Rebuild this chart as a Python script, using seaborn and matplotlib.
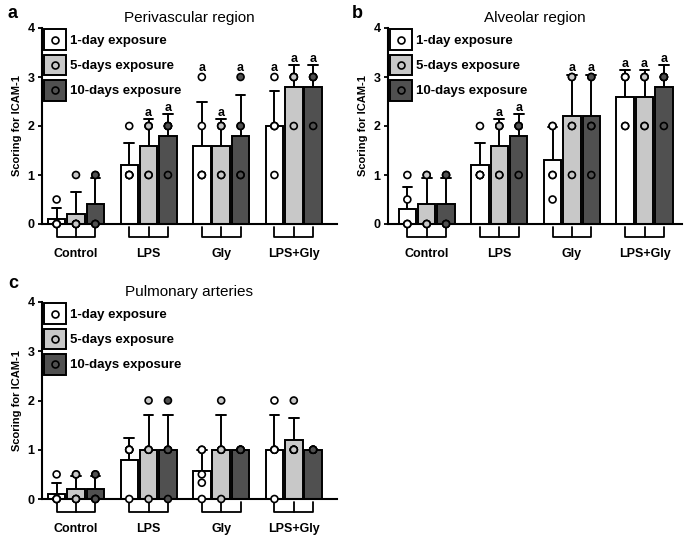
import pandas as pd
import seaborn as sns
import matplotlib.pyplot as plt
from matplotlib.patches import Patch
from matplotlib.lines import Line2D
from matplotlib.legend_handler import HandlerTuple, HandlerLine2D

groups = ['Control', 'LPS', 'Gly', 'LPS+Gly']
exposures = ['1-day exposure', '5-days exposure', '10-days exposure']
colors = ['#ffffff', '#c8c8c8', '#505050']

# individual ICAM-1 scores (5 animals per bar), one list per group
peri_1d = [[0.5, 0, 0, 0, 0], [2, 1, 1, 1, 1], [3, 2, 1, 1, 1], [3, 2, 2, 2, 1]]
peri_5d = [[1, 0, 0, 0, 0], [2, 2, 2, 1, 1], [2, 2, 2, 1, 1], [3, 3, 3, 3, 2]]
peri_10d = [[1, 1, 0, 0, 0], [2, 2, 2, 2, 1], [3, 2, 2, 1, 1], [3, 3, 3, 3, 2]]

alv_1d = [[1, 0.5, 0, 0, 0], [2, 1, 1, 1, 1], [2, 2, 1, 1, 0.5], [3, 3, 3, 2, 2]]
alv_5d = [[1, 1, 0, 0, 0], [2, 2, 2, 1, 1], [3, 3, 2, 2, 1], [3, 3, 3, 2, 2]]
alv_10d = [[1, 1, 0, 0, 0], [2, 2, 2, 2, 1], [3, 3, 2, 2, 1], [3, 3, 3, 3, 2]]

pulm_1d = [[0.5, 0, 0, 0, 0], [1, 1, 1, 1, 0], [1, 1, 0.5, 0.33, 0], [2, 1, 1, 1, 0]]
pulm_5d = [[0.5, 0.5, 0, 0, 0], [2, 1, 1, 1, 0], [2, 1, 1, 1, 0], [2, 1, 1, 1, 1]]
pulm_10d = [[0.5, 0.5, 0, 0, 0], [2, 1, 1, 1, 0], [1, 1, 1, 1, 1], [1, 1, 1, 1, 1]]

# "a" marks (per group: 1-day, 5-days, 10-days)
peri_sig = [[0, 0, 0], [0, 1, 1], [1, 1, 1], [1, 1, 1]]
alv_sig = [[0, 0, 0], [0, 1, 1], [0, 1, 1], [1, 1, 1]]
pulm_sig = [[0, 0, 0], [0, 0, 0], [0, 0, 0], [0, 0, 0]]

sns.set_style('ticks', {'axes.edgecolor': 'black', 'xtick.color': 'black',
                        'ytick.color': 'black', 'text.color': 'black',
                        'axes.labelcolor': 'black'})
plt.rcParams['font.family'] = ['Liberation Sans', 'DejaVu Sans']


class CenteredMarker(HandlerLine2D):
    # put the legend dot in the middle of the square swatch
    def create_artists(self, legend, orig_handle, xdescent, ydescent,
                       width, height, fontsize, trans):
        artists = super().create_artists(legend, orig_handle, xdescent, ydescent,
                                         width, height, fontsize, trans)
        for a in artists:
            a.set_ydata([height / 2 - ydescent] * len(a.get_xdata()))
        return artists


def long_df(d1, d5, d10):
    rows = []
    for exp, vals in zip(exposures, [d1, d5, d10]):
        for g, scores in zip(groups, vals):
            for s in scores:
                rows.append((g, exp, s))
    return pd.DataFrame(rows, columns=['group', 'exposure', 'score'])


def panel(ax, df, sig, title, xlim):
    sns.barplot(data=df, x='group', y='score', hue='exposure', order=groups,
                hue_order=exposures, palette=colors, errorbar='sd', capsize=0.4,
                width=0.8, gap=0.1, edgecolor='black', linewidth=1.4,
                err_kws={'color': 'black', 'linewidth': 1.4}, legend=False, ax=ax)
    # error bars behind the bars so only the upper half shows
    for ln in ax.lines:
        ln.set_zorder(0.9)
    sns.stripplot(data=df, x='group', y='score', hue='exposure', order=groups,
                  hue_order=exposures, palette=colors, dodge=True, jitter=False,
                  size=5, edgecolor='black', linewidth=1.2, legend=False, ax=ax)
    for coll in ax.collections:
        coll.set_clip_on(False)
        coll.set_zorder(4)

    stats = df.groupby(['group', 'exposure'])['score'].agg(['mean', 'std', 'max'])
    trans = ax.get_xaxis_transform()
    for i, g in enumerate(groups):
        xs = [c[i].get_x() + c[i].get_width() / 2 for c in ax.containers]
        ax.plot([xs[0], xs[0], xs[-1], xs[-1]], [-0.014, -0.068, -0.068, -0.014],
                transform=trans, clip_on=False, color='black', lw=1.3)
        ax.plot([xs[1], xs[1]], [-0.014, -0.068], transform=trans,
                clip_on=False, color='black', lw=1.3)
        for j, exp in enumerate(exposures):
            if sig[i][j]:
                m, s, mx = stats.loc[(g, exp)]
                top = max(m + s, mx + 0.07)
                ax.annotate('a', (xs[j], top), xytext=(0, 2), textcoords='offset points',
                            ha='center', va='baseline', fontsize=9, fontweight='bold')

    handles = [(Patch(facecolor=c, edgecolor='black', linewidth=1.4),
                Line2D([], [], ls='', marker='o', ms=5, mfc=c, mec='black', mew=1.2))
               for c in colors]
    ax.legend(handles, exposures,
              handler_map={tuple: HandlerTuple(ndivide=1), Line2D: CenteredMarker()},
              loc='upper left', bbox_to_anchor=(0.008, 0.993), frameon=False,
              borderpad=0, borderaxespad=0, handlelength=1.65, handleheight=2.05,
              labelspacing=0.33, handletextpad=0.35,
              prop={'weight': 'bold', 'size': 9.5})

    ax.set_xlim(*xlim)
    ax.set_ylim(0, 4)
    ax.set_yticks(range(5))
    ax.set_xticks(range(4))
    ax.set_xticklabels(groups, fontweight='bold', fontsize=9)
    ax.tick_params(axis='x', length=0, pad=17)
    ax.tick_params(axis='y', length=3, width=1.3, labelsize=9, pad=2)
    for lbl in ax.get_yticklabels():
        lbl.set_fontweight('bold')
    ax.set_xlabel('')
    ax.set_ylabel('Scoring for ICAM-1', fontsize=8, fontweight='bold', labelpad=4)
    ax.set_title(title, fontsize=11, pad=4)
    sns.despine(ax=ax)
    for side in ['left', 'bottom']:
        ax.spines[side].set_linewidth(1.5)


fig = plt.figure(figsize=(6.85, 5.36), dpi=100)
ax_a = fig.add_axes([41.5 / 685, 1 - 224 / 536, 295.5 / 685, 196 / 536])
ax_b = fig.add_axes([387.5 / 685, 1 - 224 / 536, 294.5 / 685, 196 / 536])
ax_c = fig.add_axes([41.5 / 685, 1 - 499 / 536, 295.5 / 685, 197 / 536])

panel(ax_a, long_df(peri_1d, peri_5d, peri_10d), peri_sig, 'Perivascular region', (-0.475, 3.595))
panel(ax_b, long_df(alv_1d, alv_5d, alv_10d), alv_sig, 'Alveolar region', (-0.54, 3.516))
panel(ax_c, long_df(pulm_1d, pulm_5d, pulm_10d), pulm_sig, 'Pulmonary arteries', (-0.475, 3.595))

fig.text(8 / 685, 1 - 13 / 536, 'a', fontsize=13, fontweight='bold', va='center')
fig.text(352 / 685, 1 - 13 / 536, 'b', fontsize=13, fontweight='bold', va='center')
fig.text(8 / 685, 1 - 284 / 536, 'c', fontsize=13, fontweight='bold', va='center')

fig.savefig('out.png', dpi=100)
